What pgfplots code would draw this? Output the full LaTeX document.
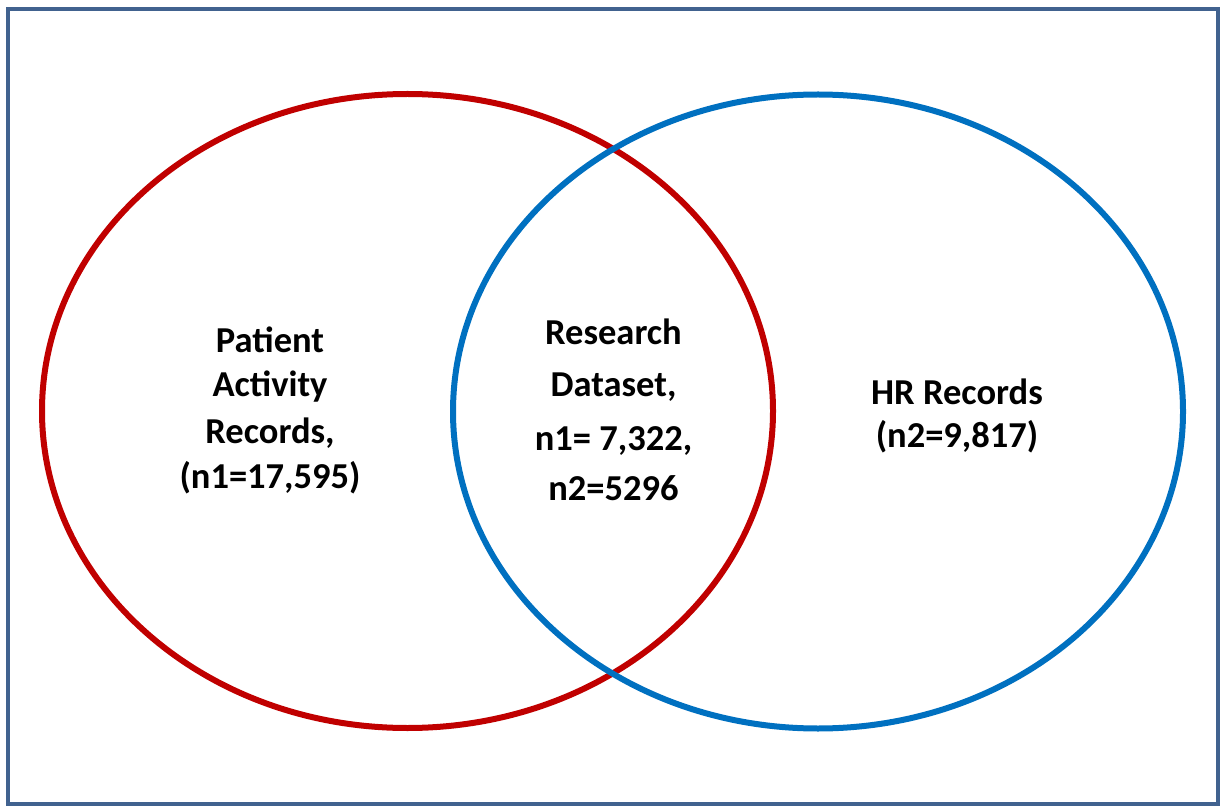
\documentclass[border=0pt]{standalone}
\usepackage{pgfplots}
\pgfplotsset{compat=1.18}
\usepackage{fontspec}
\setmainfont{Carlito}
\definecolor{frameblue}{HTML}{41628F}
\definecolor{vred}{HTML}{C00000}
\definecolor{vblue}{HTML}{0070C0}
\begin{document}
\begin{tikzpicture}
\begin{axis}[
  width=1220pt, height=807pt, scale only axis,
  xmin=0, xmax=1220, ymin=0, ymax=807,
  hide axis, clip=false,
]
\path (axis cs:0,0) rectangle (axis cs:1220,807);
\draw[frameblue, line width=4pt] (axis cs:8,3) rectangle (axis cs:1218,798);
\draw[vred, line width=6pt] (axis cs:407.5,396) ellipse [x radius=365.5, y radius=317];
\draw[vblue, line width=6pt] (axis cs:818,395.5) ellipse [x radius=365, y radius=317];
\tikzset{lbl/.style={anchor=base, inner sep=0pt, font=\fontsize{36.5}{42}\selectfont\bfseries}}
% left
\node[lbl] at (axis cs:270,454) {Patient};
\node[lbl] at (axis cs:270,410) {Activity};
\node[lbl] at (axis cs:270,364) {Records,};
\node[lbl] at (axis cs:270,319) {(n1=17,595)};
% middle
\node[lbl] at (axis cs:613.5,462) {Research};
\node[lbl] at (axis cs:613.5,410) {Dataset,};
\node[lbl] at (axis cs:613.5,357) {n1= 7,322,};
\node[lbl] at (axis cs:613.5,307) {n2=5296};
% right
\node[lbl] at (axis cs:957,403) {HR Records};
\node[lbl] at (axis cs:957,360) {(n2=9,817)};
\end{axis}
\end{tikzpicture}
\end{document}
